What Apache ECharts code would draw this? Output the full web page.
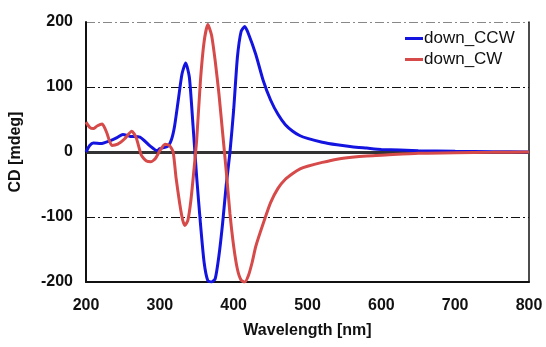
<!DOCTYPE html>
<html>
<head>
<meta charset="utf-8">
<script src="https://cdn.jsdelivr.net/npm/echarts@6/dist/echarts.min.js"></script>
<style>
  html, body { margin: 0; padding: 0; background: #fff; }
  #chart { width: 546px; height: 347px; }
</style>
</head>
<body>
<div id="chart"></div>
<script>
// wavelength [nm] and CD [mdeg]
const ccwWavelength = [200, 205, 210, 220, 232, 242, 250, 260, 273, 287, 296, 300, 311, 316, 320, 325, 330, 335, 340, 345, 350, 355, 360, 365, 370, 375, 380, 385, 390, 395, 400, 405, 410, 415, 420, 430, 440, 450, 460, 470, 480, 490, 500, 520, 540, 560, 580, 600, 650, 700, 750, 800];
const ccwCD = [0, 10, 14, 13, 17, 22, 27, 24, 23, 9, 2, 5, 9, 20, 40, 80, 120, 137, 115, 40, -40, -110, -170, -198, -200, -195, -160, -110, -50, 0, 65, 145, 185, 193, 182, 150, 110, 80, 58, 42, 32, 25, 21, 15, 11, 8, 6, 4, 2, 1, 0.5, 0];

const cwWavelength = [200, 205, 210, 215, 222, 228, 235, 243, 252, 262, 268, 275, 282, 288, 294, 300, 307, 313, 318, 322, 327, 331, 334, 338, 342, 346, 350, 355, 360, 365, 370, 375, 380, 385, 390, 395, 400, 405, 410, 415, 420, 425, 430, 440, 450, 460, 470, 480, 490, 500, 520, 540, 560, 580, 600, 650, 700, 750, 800];
const cwCD = [46, 38, 36, 40, 43, 30, 10, 12, 20, 32, 22, -5, -14, -15, -10, 2, 12, 10, 0, -40, -80, -105, -113, -105, -75, -30, 20, 110, 170, 196, 180, 140, 90, 30, -30, -95, -145, -180, -197, -200, -190, -170, -145, -110, -78, -56, -42, -33, -26, -22, -16, -11, -8, -6, -5, -2, -1, -0.5, 0];

const seriesNames = ['down_CCW', 'down_CW'];
const seriesColors = ['#1414e0', '#d64a4a'];

const labelFont = { color: '#111', fontFamily: 'Liberation Sans, Arial, sans-serif', fontWeight: 'bold', fontSize: 16 };

const zip = (xs, ys) => xs.map((x, i) => [x, ys[i]]);

const chart = echarts.init(document.getElementById('chart'), null, { renderer: 'canvas' });

chart.setOption({
  animation: false,
  backgroundColor: '#fff',
  grid: { left: 86, right: 17, top: 22, bottom: 65 },
  legend: {
    orient: 'vertical',
    left: 400,
    top: 25,
    itemWidth: 18,
    itemHeight: 3,
    itemGap: 4,
    icon: 'rect',
    textStyle: { color: '#111', fontFamily: 'Liberation Sans, Arial, sans-serif', fontSize: 17, padding: [0, 0, 0, -4] },
    data: seriesNames,
  },
  xAxis: {
    type: 'value',
    min: 200,
    max: 800,
    interval: 100,
    name: 'Wavelength [nm]',
    nameLocation: 'middle',
    nameGap: 41,
    nameTextStyle: labelFont,
    axisLine: { onZero: false, lineStyle: { color: '#111', width: 2 } },
    axisTick: { show: false },
    axisLabel: { ...labelFont, margin: 16 },
    splitLine: { show: false },
  },
  yAxis: [
    {
      type: 'value',
      min: -200,
      max: 200,
      interval: 100,
      name: 'CD [mdeg]',
      nameLocation: 'middle',
      nameGap: 62,
      nameTextStyle: labelFont,
      axisLine: { show: true, lineStyle: { color: '#111', width: 2 } },
      axisTick: { show: false },
      axisLabel: { ...labelFont, margin: 13 },
      splitLine: {
        show: true,
        lineStyle: { color: ['#111', '#111', '#111', '#111', '#888'], width: 1, type: [9, 3, 2, 3] },
      },
    },
    {
      type: 'value',
      position: 'right',
      min: -200,
      max: 200,
      interval: 100,
      axisLine: { show: true, lineStyle: { color: '#111', width: 1.5 } },
      axisTick: { show: false },
      axisLabel: { show: false },
      splitLine: { show: false },
    },
  ],
  series: [
    {
      name: seriesNames[0],
      type: 'line',
      data: zip(ccwWavelength, ccwCD),
      showSymbol: false,
      smooth: 0.2,
      lineStyle: { color: seriesColors[0], width: 3 },
      itemStyle: { color: seriesColors[0] },
      z: 3,
      markLine: {
        silent: true,
        symbol: 'none',
        label: { show: false },
        lineStyle: { color: '#333', width: 3, type: 'solid' },
        data: [{ yAxis: 0 }],
        z: 1,
      },
    },
    {
      name: seriesNames[1],
      type: 'line',
      data: zip(cwWavelength, cwCD),
      showSymbol: false,
      smooth: 0.2,
      lineStyle: { color: seriesColors[1], width: 3 },
      itemStyle: { color: seriesColors[1] },
      z: 4,
    },
  ],
});
</script>
</body>
</html>
